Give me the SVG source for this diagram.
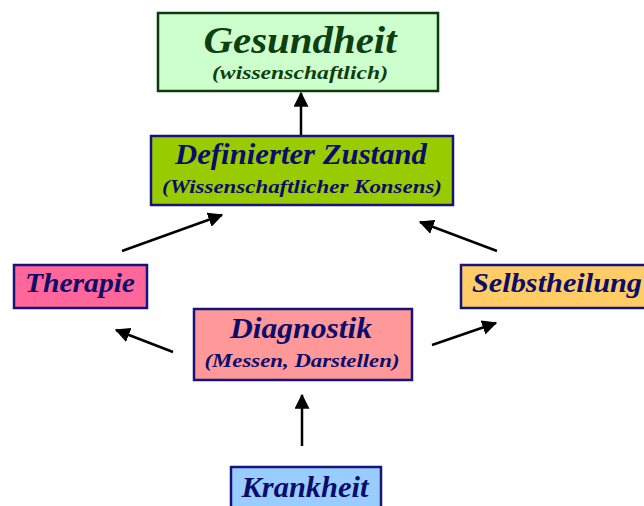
<svg xmlns="http://www.w3.org/2000/svg" width="644" height="506" viewBox="0 0 644 506">
  <style>
    .box { stroke: #14147a; stroke-width: 2.5; }
    .t { font-family: "Liberation Serif", "DejaVu Serif", serif; font-weight: bold; font-style: italic; fill: #0c0c6a; text-anchor: middle; }
    .big { font-size: 29px; }
    .small { font-size: 19px; }
    .green { fill: #0f3f10; }
    .conn line { stroke: #000; stroke-width: 2.5; }
  </style>
  <defs>
    <marker id="arrow" viewBox="0 0 12 12" refX="11" refY="6" markerWidth="6" markerHeight="6" markerUnits="strokeWidth" orient="auto">
      <path d="M0,0 L12,6 L0,12 z" fill="#000"/>
    </marker>
  </defs>
  <rect width="644" height="506" fill="#fff"/>

  <g id="gesundheit">
    <rect x="158" y="13" width="280" height="78" fill="#ccffcc" stroke="#0d3b0d" stroke-width="2.5"/>
    <text class="t green" x="300" y="53" font-size="38" textLength="193" lengthAdjust="spacingAndGlyphs">Gesundheit</text>
    <text class="t green small" x="300" y="79" textLength="176" lengthAdjust="spacingAndGlyphs">(wissenschaftlich)</text>
  </g>

  <g id="zustand">
    <rect class="box" x="151" y="136" width="302" height="69" fill="#99cc00"/>
    <text class="t big" x="301" y="164" textLength="252" lengthAdjust="spacingAndGlyphs">Definierter Zustand</text>
    <text class="t small" x="302" y="193" textLength="280" lengthAdjust="spacingAndGlyphs">(Wissenschaftlicher Konsens)</text>
  </g>

  <g id="therapie">
    <rect class="box" x="14" y="265" width="133" height="43" fill="#ff6699"/>
    <text class="t" x="80" y="292" font-size="28" textLength="110" lengthAdjust="spacingAndGlyphs">Therapie</text>
  </g>

  <g id="selbstheilung">
    <rect class="box" x="461" y="265" width="190" height="43" fill="#ffcc66"/>
    <text class="t" x="557" y="292" font-size="28" textLength="170" lengthAdjust="spacingAndGlyphs">Selbstheilung</text>
  </g>

  <g id="diagnostik">
    <rect class="box" x="194" y="309" width="218" height="71" fill="#ff9999"/>
    <text class="t big" x="301" y="338" textLength="142" lengthAdjust="spacingAndGlyphs">Diagnostik</text>
    <text class="t small" x="302" y="367" textLength="195" lengthAdjust="spacingAndGlyphs">(Messen, Darstellen)</text>
  </g>

  <g id="krankheit">
    <rect class="box" x="231" y="467" width="150" height="50" fill="#99ccff"/>
    <text class="t big" x="305" y="497" textLength="127" lengthAdjust="spacingAndGlyphs">Krankheit</text>
  </g>

  <g class="conn">
    <line x1="301" y1="135" x2="301" y2="93" marker-end="url(#arrow)"/>
    <line x1="122" y1="251" x2="222" y2="215" marker-end="url(#arrow)"/>
    <line x1="497" y1="251" x2="420" y2="222" marker-end="url(#arrow)"/>
    <line x1="173" y1="352" x2="116" y2="330" marker-end="url(#arrow)"/>
    <line x1="432" y1="345" x2="496" y2="323" marker-end="url(#arrow)"/>
    <line x1="302" y1="446" x2="302" y2="395" marker-end="url(#arrow)"/>
  </g>
</svg>
